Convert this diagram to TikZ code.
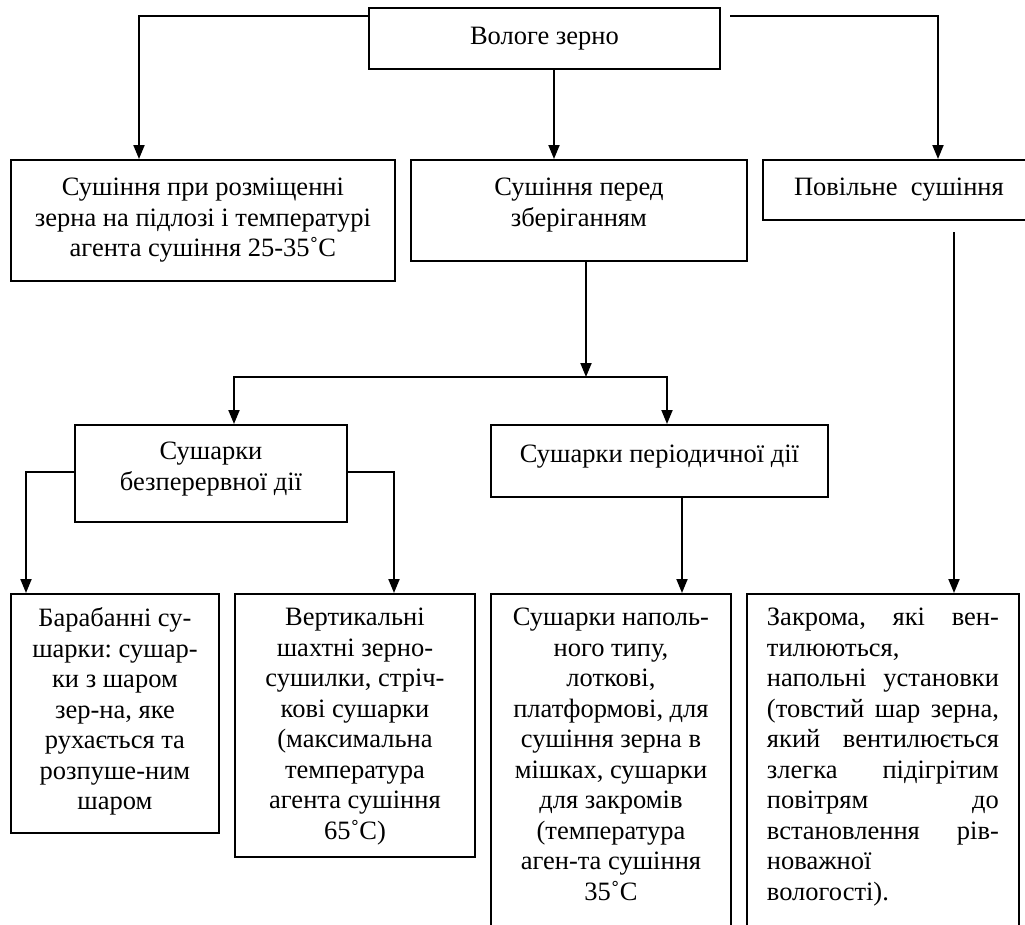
\documentclass[tikz,border=0pt]{standalone}
\usepackage{fontspec}
\setmainfont{Liberation Serif}
\usetikzlibrary{arrows.meta,calc}
\frenchspacing
\newcommand{\boxtext}[4][16pt]{\parbox[c][#3][t]{#2}{\centering\vspace*{#1}#4}}
\begin{document}
\begin{tikzpicture}[x=1pt,y=-1pt,
  txt/.style={font=\fontsize{26.5}{30.5}\selectfont},
  box/.style={txt,draw,line width=1.9pt,inner sep=0pt,anchor=north west},
  arr/.style={line width=1.9pt,-{Triangle[length=14pt,width=11pt]}},
  ln/.style={line width=1.9pt}]
\clip (0,0) rectangle (1025,924);
\fill[white] (0,0) rectangle (1025,924);

% boxes
\node[box] (top) at (368,7) {\boxtext[19pt]{351pt}{61pt}{Вологе зерно}};
\node[box] (A) at (10,159)
  {\boxtext[18pt]{384pt}{121pt}{Сушіння при розміщенні\\зерна на підлозі і температурі\\агента сушіння 25-35˚C}};
\node[box] (B) at (410,159)
  {\boxtext[18pt]{336pt}{101pt}{Сушіння перед\\зберіганням}};
\node[box] (C) at (762,159)
  {\boxtext[18pt]{272pt}{60pt}{Повільне~\ сушіння}};
\node[box] (D) at (74,424)
  {\boxtext[17pt]{272pt}{97pt}{Сушарки\\безперервної дії}};
\node[box] (E) at (490,424)
  {\boxtext[20pt]{337pt}{72pt}{Сушарки періодичної дії}};
\node[box] (F) at (10,593)
  {\boxtext[14pt]{208pt}{239pt}{Барабанні су-\\шарки: сушар-\\ки з шаром\\зер-на, яке\\рухається та\\розпуше-ним\\шаром}};
\node[box] (G) at (234,593)
  {\boxtext[14pt]{240pt}{263pt}{Вертикальні\\шахтні зерно-\\сушилки, стріч-\\кові сушарки\\(максимальна\\температура\\агента сушіння\\65˚C)}};
\node[box] (H) at (490,593)
  {\boxtext[14pt]{240pt}{420pt}{Сушарки наполь-\\ного типу,\\лоткові,\\платформові, для\\сушіння зерна в\\мішках, сушарки\\для закромів\\(температура\\аген-та сушіння\\35˚C}};
\node[box,inner xsep=20pt] (I) at (746,593)
  {\parbox[c][420pt][t]{234pt}{\raggedright\vspace*{14pt}%
   \hbox to 232pt{Закрома,\hfill які\hfill вен-}
   \hbox to 232pt{тилюються,\hfill}
   \hbox to 232pt{напольні\hfill установки}
   \hbox to 232pt{(товстий\hfill шар\hfill зерна,}
   \hbox to 232pt{який\hfill вентилюється}
   \hbox to 232pt{злегка\hfill підігрітим}
   \hbox to 232pt{повітрям\hfill до}
   \hbox to 232pt{встановлення\hfill рів-}
   \hbox to 232pt{новажної\hfill}
   \hbox to 232pt{вологості).\hfill}}};

% coordinates for connector routing
\coordinate (p1) at (139,16);
\coordinate (p2) at (554,0);
\coordinate (p3) at (730,16);
\coordinate (p4) at (938,16);
\coordinate (j)  at (586,377);
\coordinate (jl) at (234,377);
\coordinate (jr) at (667,377);
\coordinate (d1) at (26,472);
\coordinate (d2) at (394,472);
\coordinate (e1) at (682,0);
\coordinate (c1) at (954,232);

% connectors
\draw[arr] (top.west |- p1) -| (A.north -| p1);
\draw[arr] (top.south -| p2) -- (B.north -| p2);
\draw[arr] (p3) -| (C.north -| p4);
\draw[arr] (B.south -| j) -- (j);
\draw[arr] (j) -| (D.north -| jl);
\draw[arr] (j) -| (E.north -| jr);
\draw[arr] (D.west |- d1) -| (F.north -| d1);
\draw[arr] (D.east |- d2) -| (G.north -| d2);
\draw[arr] (E.south -| e1) -- (H.north -| e1);
\draw[arr] (c1) -- (I.north -| c1);
\end{tikzpicture}
\end{document}
